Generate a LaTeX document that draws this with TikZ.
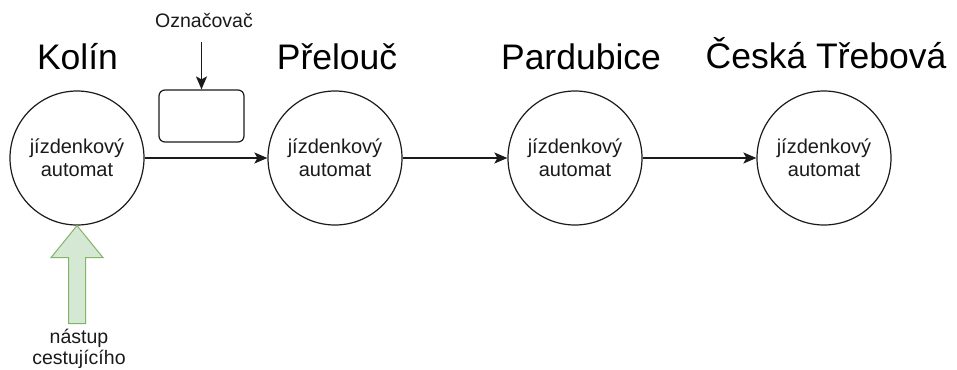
\documentclass[tikz,border=0pt]{standalone}
\usepackage{fontspec}
\setmainfont{Liberation Sans}
\usetikzlibrary{arrows.meta}
\definecolor{inkdark}{HTML}{1A1A1A}
\definecolor{boardfill}{HTML}{D5E8D4}
\definecolor{boardline}{HTML}{82B366}
\begin{document}
\begin{tikzpicture}[x=1pt,y=-1pt,
  station/.style={circle,draw=inkdark,line width=1.2pt,minimum size=134pt,
    inner sep=0pt,align=center,text=inkdark,
    font=\fontsize{20}{23}\selectfont},
  townname/.style={anchor=base,inner sep=0pt,text=black,
    font=\fontsize{35.5}{40}\selectfont},
  smalllabel/.style={text=inkdark,font=\fontsize{19.5}{21}\selectfont},
  flow/.style={draw=inkdark,line width=1.3pt,
    -{Stealth[length=13pt,width=11pt,inset=3pt]}},
  validator/.style={draw=inkdark,line width=1.2pt,rounded corners=6pt,
    minimum width=85pt,minimum height=52pt,inner sep=0pt},
  boarding/.style={draw=boardline,fill=boardfill,line width=1pt,line join=miter}
]
\useasboundingbox (0,0) rectangle (957,369);

% stations along the line
\node[station] (kolin)   at (77,158)  {jízdenkový\\automat};
\node[station] (prelouc) at (335,158) {jízdenkový\\automat};
\node[station] (pardub)  at (575,158) {jízdenkový\\automat};
\node[station] (trebova) at (824,158) {jízdenkový\\automat};

% town names
\node[townname] (tKolin)   at (77.5,69) {Kolín};
\node[townname] (tPrelouc) at (337,69)  {Přelouč};
\node[townname] (tPardub)  at (581,69)  {Pardubice};
\node[townname] (tTrebova) at (826,68)  {Česká Třebová};

% travel between stations
\draw[flow] (kolin)   -- (prelouc);
\draw[flow] (prelouc) -- (pardub);
\draw[flow] (pardub)  -- (trebova);

% ticket validator
\node[validator] (box) at (201.5,116) {};
\node[smalllabel,anchor=base,inner sep=0pt] (oz) at (204,28) {Označovač};
\draw[flow] (box.north |- oz.south) ++(0,14) -- (box.north);

% passenger boarding
\draw[boarding] (kolin.south) -- ++(26,32) -- ++(-17.5,0) -- ++(0,66)
  -- ++(-17,0) -- ++(0,-66) -- ++(-17.5,0) -- cycle;
\node[smalllabel,align=center,anchor=base,inner sep=0pt] (board) at (79,364)
  {nástup\\cestujícího};
\end{tikzpicture}
\end{document}
